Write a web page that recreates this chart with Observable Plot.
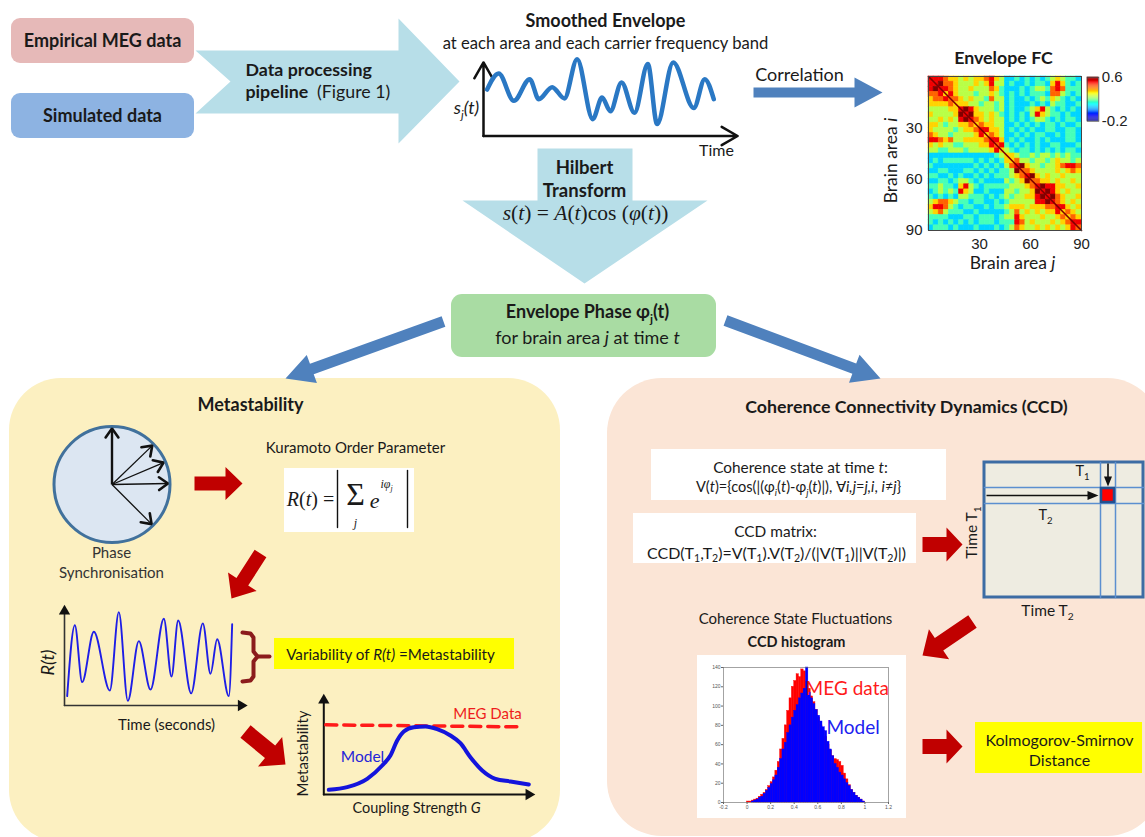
<!DOCTYPE html>
<html><head><meta charset="utf-8">
<script src="https://cdn.jsdelivr.net/npm/d3@7"></script>
<script src="https://cdn.jsdelivr.net/npm/@observablehq/plot@0.6"></script>
<style>
html,body{margin:0;padding:0;background:#fff;}
#stage{position:relative;width:1145px;height:837px;overflow:hidden;}
</style></head><body><div id="stage"></div>
<script>
// ---------------- DATA ----------------
// Smoothed envelope s_j(t) (arbitrary time units, normalised amplitude)
const envT = [0,5.1,11.8,18.8,22.8,28.7,34.1,39.7,46.6,50.7,54.4,59.3,65.0,70.9,75.0,82.1,91.2,96.0,100];
const envS = [0.58,0.78,0.44,0.71,0.46,0.61,0.47,0.96,0.21,0.48,0.31,0.67,0.29,0.90,0.15,0.92,0.35,0.71,0.46];
// Kuramoto order parameter R(t)
const rTime = [0.16,0.62,1.06,1.76,2.72,3.26,3.8,4.46,5.16,5.96,6.42,6.82,7.6,8.3,8.76,9.16,9.86,10.06];
const rValue = [0.10,0.86,0.25,0.79,0.16,1.00,0.05,0.69,0.17,0.93,0.31,0.91,0.13,0.88,0.34,0.71,0.10,0.87];
// Metastability vs coupling strength G
const couplingG = [0.25,1.17,2.17,2.92,3.33,3.67,4.0,4.5,5.08,5.67,6.33,6.83,7.33,7.92,8.58,9.33,10.25];
const metaModel = [0.014,0.022,0.047,0.087,0.117,0.162,0.189,0.202,0.204,0.196,0.177,0.154,0.112,0.072,0.047,0.039,0.030];
const megG = [0.1, 9.75];
const megMeta = [0.209, 0.203];
// CCD histogram (bins of 0.02 starting at 0)
const histFirst = 0, histWidth = 0.02;
const histMEG = [1,1,2,3,4,6,8,10,13,17,21,26,33,42,55,66,80,95,108,120,126,133,130,138,136,125,118,110,104,96,88,80,74,68,60,54,48,45,44,42,38,30,24,18,13,10,7,5,3,1];
const histModel = [0,0,1,2,3,5,6,9,12,15,19,23,28,36,45,55,62,72,80,88,95,101,108,113,118,140,114,108,102,96,90,84,78,74,63,55,48,40,36,31,28,24,20,17,13,10,7,5,3,1];
const histXTicks = [-0.2,0,0.2,0.4,0.6,0.8,1,1.2];
const histYTicks = [0,20,40,60,80,100,120,140];
// Envelope FC matrix, 30x30 blocks of 3 brain areas, upper triangle, digit d -> -0.2 + d*0.8/9
const FC_UPPER = [
"888766565667865334343434565443",
"89776555656855343343443686434",
"8876556555764333434554787444",
"686555455654343434443775434",
"77656554755343343454654343",
"6665545545343334343544334",
"898655545343345685434343",
"89665654343435865443433",
"8765655343434554343443",
"676655334343434434334",
"88665343434334433443",
"6765334343443343443",
"886343433434333443",
"78434343433443334",
"6543443434343443",
"665445455454544",
"67554554565545",
"8965545567887",
"776555565676",
"89656556555",
"7766565565",
"898866556",
"89865655",
"8976556",
"876565",
"88656",
"6765",
"676",
"88",
"7"
];
const fcTicks = [30,60,90];
const fcRange = [-0.2, 0.6];
const fcDiagonal = [0, 90];
const phaseAngles = [90, 44, 23, 1, -45];

// ---------------- HELPERS ----------------
const FONT = "Lato, 'Open Sans', sans-serif";
const SERIF = "'Liberation Serif', 'DejaVu Serif', serif";
const ARIAL = "'Liberation Sans', Arial, sans-serif";
const BLUE = "#4f81bd", LBLUE = "#b7dee8", DRED = "#c00000";
const stage = document.getElementById("stage");
const TRANSP = {background: "transparent", overflow: "visible"};
function place(node, left, top) {
  node.style.position = "absolute"; node.style.left = left + "px"; node.style.top = top + "px";
  stage.appendChild(node);
}
function blockArrow(x0, y0, x1, y1, sw, hw, hl) {
  const dx = x1 - x0, dy = y1 - y0, L = Math.hypot(dx, dy), ux = dx / L, uy = dy / L, px = -uy, py = ux;
  const bx = x1 - ux * hl, by = y1 - uy * hl;
  return [[x0 + px*sw/2, y0 + py*sw/2], [bx + px*sw/2, by + py*sw/2], [bx + px*hw/2, by + py*hw/2], [x1, y1],
          [bx - px*hw/2, by - py*hw/2], [bx - px*sw/2, by - py*sw/2], [x0 - px*sw/2, y0 - py*sw/2]];
}
const JET = {type: "linear", domain: [-0.2, -0.1, 0.1, 0.3, 0.5, 0.6],
  range: ["#00008f", "#0000ff", "#00ffff", "#ffff00", "#ff0000", "#800000"], interpolate: "rgb"};

// ---------------- BACKGROUND DIAGRAM ----------------
const bg = [];
const R = (x1, y1, x2, y2, o) => bg.push(Plot.rect([{x1, y1, x2, y2}], {x1: "x1", y1: "y1", x2: "x2", y2: "y2", ...o}));
const P = (pts, fill) => bg.push(Plot.line(pts, {x: d => d[0], y: d => d[1], fill, stroke: "none", curve: "linear-closed"}));
const Ln = (pts, o) => bg.push(Plot.line(pts, {x: d => d[0], y: d => d[1], ...o}));

R(9, 378, 560, 842, {fill: "#fcf0c1", rx: 52});
R(607, 378, 1162, 836, {fill: "#fbe5d6", rx: 55});
P([[195,50],[398,50],[398,18],[459,81],[398,143],[398,113],[195,113],[230,81]], LBLUE);
P([[537,148],[632,148],[632,200],[707,200],[584,283],[462,200],[537,200]], LBLUE);
P(blockArrow(753, 92, 882, 92, 10, 30, 28), BLUE);
P(blockArrow(443, 321, 285, 378, 11, 30, 28), BLUE);
P(blockArrow(725, 320, 880, 378, 11, 30, 28), BLUE);
R(11, 18, 194, 63, {fill: "#e6b9b8", rx: 9});
R(11, 93, 194, 138, {fill: "#8db3e2", rx: 9});
R(451, 294, 716, 357, {fill: "#a9dca3", rx: 11});
R(284, 468, 414, 532, {fill: "white"});
R(651, 449, 946, 500, {fill: "white"});
R(633, 513, 916, 563, {fill: "white"});
R(697, 655, 906, 818, {fill: "white"});
R(274, 638, 514, 669, {fill: "#ffff00"});
R(975, 722, 1142, 773, {fill: "#ffff00"});
// CCD matrix schematic
R(984, 462, 1143, 597, {fill: "#eeece1", stroke: "#3c6ca4", strokeWidth: 3});
Ln([[984,487],[1143,487]], {stroke: "#5b8fd0", strokeWidth: 1.5});
Ln([[984,503],[1143,503]], {stroke: "#5b8fd0", strokeWidth: 1.5});
Ln([[1100,462],[1100,597]], {stroke: "#5b8fd0", strokeWidth: 1.5});
Ln([[1115,462],[1115,597]], {stroke: "#5b8fd0", strokeWidth: 1.5});
R(1101, 488, 1114, 502, {fill: "#ff0000", stroke: "#23518f", strokeWidth: 2.5});
P(blockArrow(986, 495, 1098, 495, 1.6, 9, 11), "#111");
P(blockArrow(1107.5, 463, 1107.5, 486, 1.6, 8, 10), "#111");
// phase circle
const cx = 111.5, cy = 484, arm = 56;
bg.push(Plot.dot([{x: cx, y: cy}], {x: "x", y: "y", r: 58, fill: "#dce6f2", stroke: "#41719c", strokeWidth: 3}));
const arms = phaseAngles.map((a, k) => ({x1: cx, y1: cy, x2: cx + arm*Math.cos(a*Math.PI/180), y2: cy - arm*Math.sin(a*Math.PI/180), k}));
bg.push(Plot.link(arms, {x1: "x1", y1: "y1", x2: "x2", y2: "y2", stroke: "#111", strokeWidth: d => d.k === 0 ? 2.4 : 1.3}));
const heads = [];
for (const a of arms) {
  const ang = Math.atan2(a.y2 - a.y1, a.x2 - a.x1);
  heads.push({k: a.k, x: a.x2 - 11*Math.cos(ang - 0.62), y: a.y2 - 11*Math.sin(ang - 0.62)});
  heads.push({k: a.k, x: a.x2, y: a.y2});
  heads.push({k: a.k, x: a.x2 - 11*Math.cos(ang + 0.62), y: a.y2 - 11*Math.sin(ang + 0.62)});
}
bg.push(Plot.line(heads, {x: "x", y: "y", z: "k", stroke: "#111", strokeWidth: 2.6, strokeLinejoin: "miter", strokeLinecap: "round"}));
// red arrows
P(blockArrow(194, 483, 242, 483, 14, 33, 17), DRED);
P(blockArrow(260, 553, 231, 598, 14, 34, 20), DRED);
P(blockArrow(245, 731, 285, 764, 16, 38, 20), DRED);
P(blockArrow(922, 544, 962, 544, 15, 34, 16), DRED);
P(blockArrow(972, 621, 922, 655, 15, 36, 20), DRED);
P(blockArrow(922, 746, 962, 746, 15, 34, 16), DRED);
// bracket
Ln([[242,632],[250,633],[253,637],[253,651],[257,656],[253,661],[253,676],[250,680],[242,681]], {stroke: "#8b1c1c", strokeWidth: 4, strokeLinejoin: "round"});
Ln([[257,656],[269,656]], {stroke: "#8b1c1c", strokeWidth: 4});
// formula bars
Ln([[337,470],[337,527]], {stroke: "#111", strokeWidth: 1.4});
Ln([[407,470],[407,527]], {stroke: "#111", strokeWidth: 1.4});

// texts
const labels = [];
const T = (x, y, t, o = {}) => labels.push({x, y, t, ...o});
T(102, 41, "Empirical MEG data", {size: 18, w: "bold"});
T(102, 116, "Simulated data", {size: 18, w: "bold"});
T(245, 70, "Data processing", {size: 17.8, w: "bold", anchor: "start"});
T(245, 92, "pipeline {n| (Figure 1)}", {size: 17.8, w: "bold", anchor: "start"});
T(605, 21, "Smoothed Envelope", {size: 18, w: "bold"});
T(605, 43, "at each area and each carrier frequency band", {size: 16.6});
T(466, 108, "s{d|j}(t)", {size: 18, it: true});
T(716, 150, "Time", {size: 16});
T(799, 75, "Correlation", {size: 18});
T(1003, 58, "Envelope FC", {size: 17.8, w: "bold"});
T(891, 160, "Brain area {i|i}", {size: 17.5, rot: -90});
T(1012, 263, "Brain area {i|j}", {size: 17.5});
T(584, 168, "Hilbert", {size: 18.5, w: "bold"});
T(584, 191, "Transform", {size: 18.5, w: "bold"});
T(585, 213, "{i|s}({i|t}) = {i|A}({i|t})cos ({i|φ}({i|t}))", {size: 21.5, font: SERIF});
T(587, 312, "Envelope Phase φ{d|j}(t)", {size: 18, w: "bold"});
T(587, 338, "for brain area {i|j} at time {i|t}", {size: 18});
T(250, 405, "Metastability", {size: 18, w: "bold"});
T(111, 553, "Phase", {size: 15, fill: "#333"});
T(111, 573, "Synchronisation", {size: 15, fill: "#333"});
T(355, 448, "Kuramoto Order Parameter", {size: 15});
T(310, 499, "{i|R}({i|t}) =", {size: 20, font: SERIF});
T(355, 494, "Σ", {size: 32, font: SERIF});
T(355, 523, "j", {size: 12, font: SERIF, it: true});
T(374, 500, "e", {size: 22, font: SERIF, it: true});
T(380, 484, "iφ{d|j}", {size: 12, font: SERIF, it: true, anchor: "start"});
T(48, 662, "R(t)", {size: 18, it: true, rot: -90});
T(166, 725, "Time (seconds)", {size: 15});
T(390, 655, "Variability of {i|R(t)} =Metastability", {size: 15.2});
T(487, 714, "MEG Data", {size: 15, fill: "#ee1c1c"});
T(362, 757, "Model", {size: 15.5, fill: "#2424d8"});
T(303, 753, "Metastability", {size: 15, rot: -90});
T(416, 808, "Coupling Strength {i|G}", {size: 14.5});
T(906, 407, "Coherence Connectivity Dynamics (CCD)", {size: 17.8, w: "bold"});
T(800, 468, "Coherence state at time {i|t}:", {size: 15.4});
T(798, 487, "V({i|t})={cos(|(φ{id|i}({i|t})-φ{id|j}({i|t})|), ∀{i|i,j}={i|j,i}, {i|i}≠{i|j}}", {size: 14.6});
T(775, 532, "CCD matrix:", {size: 15.4});
T(776, 553, "CCD(T{d|1},T{d|2})=V(T{d|1}).V(T{d|2})/(|V(T{d|1})||V(T{d|2})|)", {size: 16});
T(972, 532, "Time T{d|1}", {size: 15.5, rot: -90});
T(1082, 471, "T{d|1}", {size: 14.5});
T(1045, 515, "T{d|2}", {size: 14.5});
T(1047, 611, "Time T{d|2}", {size: 15.5});
T(795, 619, "Coherence State Fluctuations", {size: 15});
T(796, 642, "CCD histogram", {size: 14.5, w: "bold"});
T(1059, 740, "Kolmogorov-Smirnov", {size: 16});
T(1059, 760, "Distance", {size: 16});
for (const l of labels) {
  bg.push(Plot.text([l], {x: "x", y: "y", text: "t", fontSize: l.size, fontWeight: l.w || "normal",
    fontStyle: l.it ? "italic" : "normal", fontFamily: l.font || FONT, textAnchor: l.anchor || "middle",
    fill: l.fill || "#1a1a1a", rotate: l.rot || 0}));
}
place(Plot.plot({width: 1145, height: 837, margin: 0, style: TRANSP,
  x: {type: "identity", axis: null}, y: {type: "identity", axis: null}, marks: bg}), 0, 0);

// ---------------- ENVELOPE CURVE ----------------
const envData = envT.map((t, i) => ({t, s: envS[i]}));
place(Plot.plot({width: 300, height: 110, marginLeft: 28, marginRight: 10, marginTop: 0, marginBottom: 19.5, style: TRANSP,
  x: {domain: [-1.6, 114], axis: null}, y: {domain: [0, 1.131], axis: null},
  marks: [
    Plot.arrow([{x1: -1.6, y1: 0, x2: 110.5, y2: 0}, {x1: -1.6, y1: 0, x2: -1.6, y2: 0.92}],
      {x1: "x1", y1: "y1", x2: "x2", y2: "y2", stroke: "#111", strokeWidth: 2.5, headLength: 11}),
    Plot.line(envData, {x: "t", y: "s", curve: "monotone-x", stroke: "#2a78c4", strokeWidth: 4.5})
  ]}), 455, 45);

// ---------------- ENVELOPE FC HEATMAP ----------------
const fcCells = [];
for (let i = 0; i < 30; i++) for (let j = 0; j < 30; j++) {
  const a = Math.min(i, j), b = Math.max(i, j);
  const ch = FC_UPPER[a][b - a] || "4";
  fcCells.push({i, j, v: fcRange[0] + (+ch) * (fcRange[1] - fcRange[0]) / 9});
}
place(Plot.plot({width: 260, height: 235, marginLeft: 68, marginRight: 39, marginTop: 36, marginBottom: 45, style: TRANSP,
  x: {domain: [0, 90]}, y: {domain: [0, 90], reverse: true}, color: JET,
  marks: [
    Plot.rect(fcCells, {x1: d => d.j*3, x2: d => d.j*3 + 3, y1: d => d.i*3, y2: d => d.i*3 + 3, fill: "v", stroke: "v", strokeWidth: 0.6}),
    Plot.line(fcDiagonal.map(a => ({a, v: fcRange[1]})), {x: "a", y: "a", stroke: "v", strokeWidth: 1.6}),
    Plot.frame({stroke: "#444", strokeWidth: 1}),
    Plot.axisX({ticks: fcTicks, tickSize: 0, tickPadding: 8, fontSize: 15, fontFamily: ARIAL, label: null, fill: "#222"}),
    Plot.axisY({ticks: fcTicks, tickSize: 0, tickPadding: 6, fontSize: 15, fontFamily: ARIAL, label: null, fill: "#222"})
  ]}), 860, 40);

// colour bar
const cbar = d3.range(fcRange[0], fcRange[1] - 1e-9, 0.02).map(v => ({v}));
place(Plot.plot({width: 65, height: 80, marginLeft: 6.7, marginRight: 46.7, marginTop: 16.7, marginBottom: 19.3, style: TRANSP,
  x: {domain: [0, 1], axis: null}, y: {domain: fcRange}, color: JET,
  marks: [
    Plot.rect(cbar, {x1: 0, x2: 1, y1: "v", y2: d => d.v + 0.02, fill: d => d.v + 0.01}),
    Plot.frame({stroke: "#444", strokeWidth: 0.8}),
    Plot.axisY({anchor: "right", ticks: fcRange, tickFormat: d => String(d), tickSize: 0, tickPadding: 3, fontSize: 15, fontFamily: ARIAL, label: null, fill: "#222"})
  ]}), 1080, 60);

// ---------------- R(t) ----------------
const rData = rTime.map((t, i) => ({t, r: rValue[i]}));
place(Plot.plot({width: 215, height: 130, marginLeft: 24, marginRight: 0, marginTop: 0, marginBottom: 15, style: TRANSP,
  x: {domain: [0, 11.46], axis: null}, y: {domain: [0, 1.232], axis: null},
  marks: [
    Plot.line([{t: 0, r: 0}, {t: 0, r: 1.01}], {x: "t", y: "r", stroke: "#333", strokeWidth: 1.6}),
    Plot.line([{t: 0, r: 0}, {t: 10.6, r: 0}], {x: "t", y: "r", stroke: "#333", strokeWidth: 1.6}),
    Plot.dot([{t: 0, r: 1.01}], {x: "t", y: "r", symbol: "triangle", r: 4.2, fill: "#111", stroke: "none"}),
    Plot.dot([{t: 10.6, r: 0}], {x: "t", y: "r", symbol: "triangle", r: 4.2, fill: "#111", stroke: "none", rotate: 90}),
    Plot.line(rData, {x: "t", y: "r", curve: "monotone-x", stroke: "#1e1ee6", strokeWidth: 1.9})
  ]}), 40, 590);

// ---------------- Metastability vs G ----------------
const metaData = couplingG.map((g, i) => ({g, m: metaModel[i]}));
const megData = megG.map((g, i) => ({g, m: megMeta[i]}));
place(Plot.plot({width: 250, height: 130, marginLeft: 33.3, marginRight: 0, marginTop: 0, marginBottom: 26, style: TRANSP,
  x: {domain: [0, 10.835], axis: null}, y: {domain: [0, 0.312], axis: null},
  marks: [
    Plot.line([{g: 0, m: 0}, {g: 0, m: 0.283}], {x: "g", y: "m", stroke: "#111", strokeWidth: 2}),
    Plot.line([{g: 0, m: 0}, {g: 10.25, m: 0}], {x: "g", y: "m", stroke: "#111", strokeWidth: 2}),
    Plot.dot([{g: 0, m: 0.283}], {x: "g", y: "m", symbol: "triangle", r: 4.2, fill: "#111", stroke: "none"}),
    Plot.dot([{g: 10.25, m: 0}], {x: "g", y: "m", symbol: "triangle", r: 4.2, fill: "#111", stroke: "none", rotate: 90}),
    Plot.line(megData, {x: "g", y: "m", stroke: "#ff1a1a", strokeWidth: 3.5, strokeDasharray: "11,7"}),
    Plot.line(metaData, {x: "g", y: "m", curve: "monotone-x", stroke: "#1414dc", strokeWidth: 4})
  ]}), 290, 690);

// ---------------- CCD histogram ----------------
const hMEG = histMEG.map((c, i) => ({x1: histFirst + i*histWidth, x2: histFirst + (i+1)*histWidth, c}));
const hMod = histModel.map((c, i) => ({x1: histFirst + i*histWidth, x2: histFirst + (i+1)*histWidth, c}));
place(Plot.plot({width: 208, height: 163, marginLeft: 26, marginRight: 17, marginTop: 12, marginBottom: 16, style: TRANSP,
  x: {domain: [-0.2, 1.2]}, y: {domain: [0, 140]},
  marks: [
    Plot.rectY(hMEG, {x1: "x1", x2: "x2", y: "c", fill: "#ff0000", stroke: "#ff0000", strokeWidth: 0.4}),
    Plot.rectY(hMod, {x1: "x1", x2: "x2", y: "c", fill: "#0000ff", stroke: "#0000ff", strokeWidth: 0.4}),
    Plot.frame({stroke: "#666", strokeWidth: 0.6}),
    Plot.axisX({ticks: histXTicks, tickFormat: d => String(+d.toFixed(1)), tickSize: 2, tickPadding: 1, fontSize: 5, fontFamily: ARIAL, label: null, fill: "#555", stroke: "#666"}),
    Plot.axisY({ticks: histYTicks, tickSize: 2, tickPadding: 1, fontSize: 5, fontFamily: ARIAL, label: null, fill: "#555", stroke: "#666"}),
    Plot.text(["MEG data"], {x: 0.85, y: 118, text: d => d, fontSize: 19, fontFamily: FONT, fill: "#ff1a1a"}),
    Plot.text(["Model"], {x: 0.9, y: 77, text: d => d, fontSize: 19, fontFamily: FONT, fill: "#2020f0"})
  ]}), 697, 655);

// ---------------- rich text (italic / sub / superscript runs) ----------------
function richify(root) {
  const NS = "http://www.w3.org/2000/svg";
  root.querySelectorAll("text").forEach(el => {
    const s = el.textContent;
    if (!/\{[ibndu]+\|/.test(s)) return;
    const fs = parseFloat(getComputedStyle(el).fontSize) || 14;
    while (el.firstChild) el.removeChild(el.firstChild);
    let shift = 0;
    const add = (txt, kind) => {
      if (!txt) return;
      const t = document.createElementNS(NS, "tspan");
      t.textContent = txt;
      let target = 0;
      if (kind.includes("i")) t.setAttribute("font-style", "italic");
      if (kind.includes("b")) t.setAttribute("font-weight", "bold");
      if (kind.includes("n")) t.setAttribute("font-weight", "normal");
      if (kind.includes("d")) { t.setAttribute("font-size", fs * 0.66); target = fs * 0.24; }
      if (kind.includes("u")) { t.setAttribute("font-size", fs * 0.62); target = -fs * 0.42; }
      if (target !== shift) { t.setAttribute("dy", target - shift); shift = target; }
      el.appendChild(t);
    };
    const re = /\{([ibndu]+)\|([^}]*)\}/g;
    let last = 0, m;
    while ((m = re.exec(s))) { add(s.slice(last, m.index), ""); add(m[2], m[1]); last = re.lastIndex; }
    add(s.slice(last), "");
  });
}
richify(stage);
</script></body></html>
